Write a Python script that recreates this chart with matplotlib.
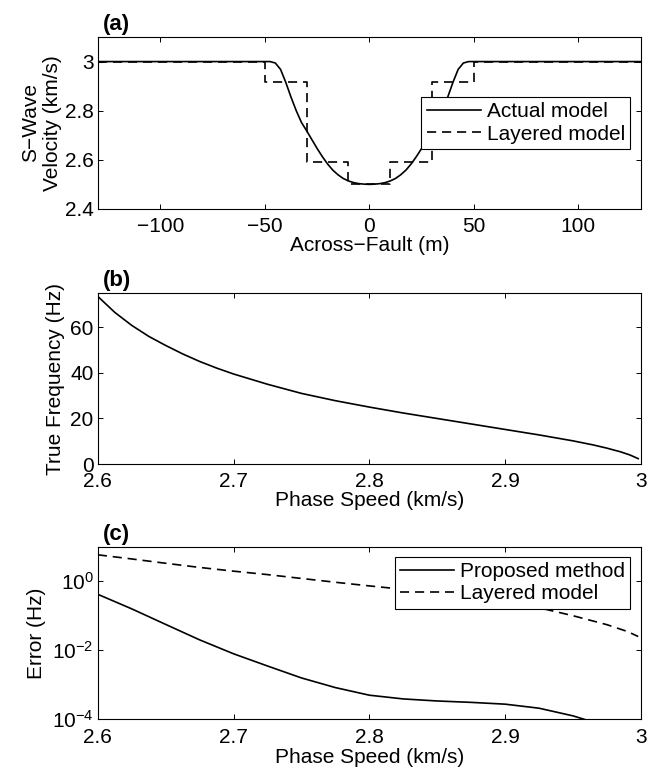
import matplotlib
matplotlib.use("Agg")
import matplotlib.pyplot as plt
from matplotlib.ticker import FuncFormatter, NullLocator

plt.rcParams['font.family'] = ['Liberation Sans', 'DejaVu Sans']
plt.rcParams['font.size'] = 15
plt.rcParams['axes.linewidth'] = 0.8

# ------ (a) velocity models ------
fault_x = [-130, -47.5, -45, -42.5, -40, -37.5, -35, -32.5, -30, -27.5, -25, -22.5,
           -20, -17.5, -15, -12.5, -10, -7.5, -5, -2.5, 0,
           2.5, 5, 7.5, 10, 12.5, 15, 17.5, 20, 22.5, 25, 27.5, 30, 32.5, 35,
           37.5, 40, 42.5, 45, 47.5, 130]
actual_v = [3.0, 3.0, 2.994, 2.968, 2.915, 2.855, 2.800, 2.752, 2.718, 2.682, 2.646, 2.613,
            2.583, 2.558, 2.539, 2.524, 2.514, 2.507, 2.503, 2.501, 2.500,
            2.501, 2.503, 2.507, 2.514, 2.524, 2.539, 2.558, 2.583, 2.613, 2.646, 2.682, 2.718, 2.752, 2.800,
            2.855, 2.915, 2.968, 2.994, 3.0, 3.0]
layer_edges = [-130, -50, -30, -10, 10, 30, 50, 130]
layer_v = [3.0, 2.915, 2.59, 2.5, 2.59, 2.915, 3.0]

# ------ (b) dispersion curve ------
phase_speed = [2.6, 2.6125, 2.625, 2.6375, 2.65, 2.6625, 2.675, 2.6875, 2.7, 2.725, 2.75,
               2.775, 2.8, 2.825, 2.85, 2.875, 2.9, 2.925, 2.95, 2.965, 2.975, 2.985,
               2.992, 2.998]
true_freq = [73.5, 66.5, 60.8, 56.0, 52.0, 48.3, 45.0, 42.1, 39.5, 35.0, 31.0,
             27.8, 25.0, 22.4, 20.0, 17.6, 15.2, 12.8, 10.2, 8.4, 7.0, 5.4,
             4.0, 2.4]

# ------ (c) errors ------
err_speed = [2.6, 2.625, 2.65, 2.675, 2.7, 2.725, 2.75, 2.775, 2.8, 2.825, 2.85,
             2.875, 2.9, 2.925, 2.95, 2.975, 2.99, 2.998]
err_proposed = [0.417, 0.158, 0.056, 0.020, 0.0079, 0.0035, 0.00158, 0.00083, 0.0005,
                0.00039, 0.00034, 0.00031, 0.000275, 0.00021, 0.000126, 0.000063,
                0.00004, 0.00003]
err_layered = [5.8, 4.4, 3.3, 2.5, 1.95, 1.55, 1.2, 0.93, 0.73, 0.58, 0.45,
               0.34, 0.25, 0.17, 0.10, 0.055, 0.035, 0.025]

fig = plt.figure(figsize=(6.52, 7.71), dpi=100)
ax_a = fig.add_axes([0.150, 0.729, 0.833, 0.223])
ax_b = fig.add_axes([0.150, 0.398, 0.833, 0.222])
ax_c = fig.add_axes([0.150, 0.067, 0.833, 0.224])

dash = (5.5, 3.5)
fmt = FuncFormatter(lambda v, p: '%g' % v)
leg_kw = dict(fancybox=False, edgecolor='black', framealpha=1, handlelength=2.6,
              handletextpad=0.3, borderpad=0.25, labelspacing=0.15, borderaxespad=0.5)

for ax in (ax_a, ax_b, ax_c):
    ax.tick_params(direction='in', length=3.6, width=0.7, top=True, right=True, pad=3)
    ax.tick_params(axis='x', pad=6)

# (a)
ax_a.plot(fault_x, actual_v, color='black', lw=1.2, label='Actual model')
ax_a.step(layer_edges, layer_v + [layer_v[-1]], where='post', color='black', lw=1.2,
          linestyle=(0, dash), label='Layered model')
ax_a.set_xlim(-130, 130)
ax_a.set_ylim(2.4, 3.1)
ax_a.set_xticks([-100, -50, 0, 50, 100])
ax_a.set_yticks([2.4, 2.6, 2.8, 3.0])
ax_a.yaxis.set_major_formatter(fmt)
ax_a.set_xlabel('Across\u2212Fault (m)', labelpad=0)
ax_a.set_ylabel('S\u2212Wave\nVelocity (km/s)', labelpad=2)
leg = ax_a.legend(loc='center right', **leg_kw)
leg.get_frame().set_linewidth(0.8)
ax_a.text(0.01, 1.01, '(a)', transform=ax_a.transAxes, fontweight='bold',
          fontsize=16, va='bottom', ha='left')

# (b)
ax_b.plot(phase_speed, true_freq, color='black', lw=1.2)
ax_b.set_xlim(2.6, 3.0)
ax_b.set_ylim(0, 75)
ax_b.set_xticks([2.6, 2.7, 2.8, 2.9, 3.0])
ax_b.set_yticks([0, 20, 40, 60])
ax_b.xaxis.set_major_formatter(fmt)
ax_b.set_xlabel('Phase Speed (km/s)', labelpad=0)
ax_b.set_ylabel('True Frequency (Hz)', labelpad=4)
ax_b.text(0.01, 1.01, '(b)', transform=ax_b.transAxes, fontweight='bold',
          fontsize=16, va='bottom', ha='left')

# (c)
ax_c.semilogy(err_speed, err_proposed, color='black', lw=1.2, label='Proposed method')
ax_c.semilogy(err_speed, err_layered, color='black', lw=1.2, linestyle=(0, dash),
              label='Layered model')
ax_c.set_xlim(2.6, 3.0)
ax_c.set_ylim(1e-4, 1e1)
ax_c.set_xticks([2.6, 2.7, 2.8, 2.9, 3.0])
ax_c.set_yticks([1e-4, 1e-2, 1e0])
ax_c.yaxis.set_minor_locator(NullLocator())
ax_c.xaxis.set_major_formatter(fmt)
ax_c.set_xlabel('Phase Speed (km/s)', labelpad=1)
ax_c.set_ylabel('Error (Hz)', labelpad=4)
leg = ax_c.legend(loc='upper right', **leg_kw)
leg.get_frame().set_linewidth(0.8)
ax_c.text(0.01, 1.01, '(c)', transform=ax_c.transAxes, fontweight='bold',
          fontsize=16, va='bottom', ha='left')

fig.savefig('out.png', dpi=100)
